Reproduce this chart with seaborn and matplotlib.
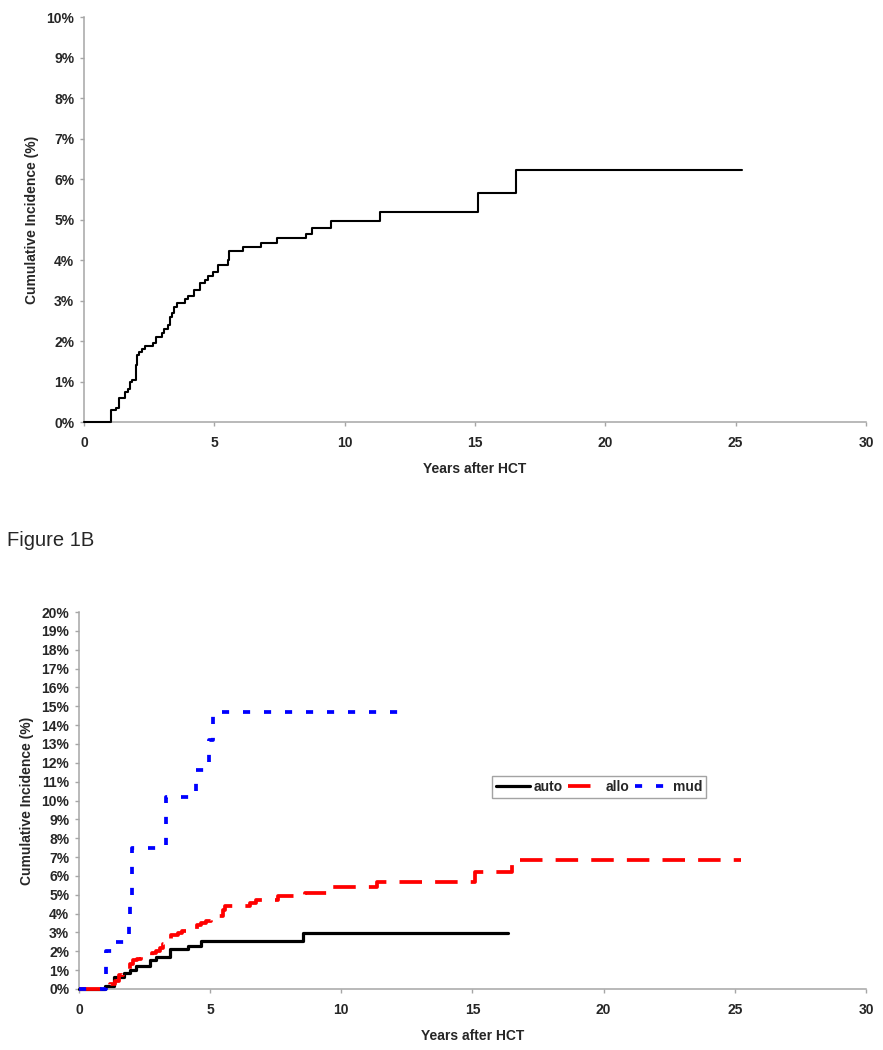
import pandas as pd
import seaborn as sns
import matplotlib.pyplot as plt
from matplotlib.ticker import FuncFormatter, MultipleLocator

# ----------------------------
# DATA (cumulative incidence in %)
# ----------------------------
# Figure 1A - all patients
top_years = [0, 1.03, 1.22, 1.35, 1.56, 1.67, 1.77, 1.86, 1.99, 2.05, 2.12, 2.24, 2.33,
             2.63, 2.76, 3.01, 3.08, 3.21, 3.29, 3.36, 3.46, 3.56, 3.88, 4.0, 4.21, 4.46,
             4.65, 4.77, 4.96, 5.13, 5.51, 5.58, 6.12, 6.79, 7.41, 8.53, 8.76, 9.46,
             11.35, 15.1, 16.57, 25.25]
top_pct = [0, 0.3, 0.35, 0.6, 0.75, 0.82, 1.0, 1.05, 1.4, 1.65, 1.72, 1.8, 1.88,
           1.95, 2.1, 2.2, 2.3, 2.4, 2.6, 2.7, 2.85, 2.95, 3.05, 3.12, 3.27, 3.43,
           3.5, 3.6, 3.7, 3.88, 4.0, 4.22, 4.33, 4.43, 4.54, 4.65, 4.8, 4.96,
           5.2, 5.65, 6.22, 6.22]

# Figure 1B - by transplant type
auto_years = [0, 0.98, 1.33, 1.72, 1.93, 2.18, 2.72, 2.95, 3.45, 4.15, 4.66, 8.55, 16.36]
auto_pct = [0, 0.15, 0.65, 0.83, 1.0, 1.2, 1.52, 1.72, 2.1, 2.3, 2.52, 2.97, 2.97]

allo_years = [0, 1.17, 1.36, 1.52, 1.68, 1.95, 2.06, 2.21, 2.35, 2.79, 2.94, 3.07, 3.2,
              3.52, 3.77, 3.93, 4.06, 4.49, 4.66, 4.85, 5.04, 5.1, 5.48, 5.57, 6.5,
              6.75, 7.58, 8.6, 9.5, 11.37, 15.1, 16.5, 25.25]
allo_pct = [0, 0.27, 0.45, 0.75, 0.9, 1.3, 1.54, 1.6, 1.73, 1.9, 2.0, 2.2, 2.4,
            2.85, 2.95, 3.1, 3.2, 3.4, 3.5, 3.6, 3.7, 3.85, 4.2, 4.4, 4.55,
            4.7, 4.92, 5.1, 5.39, 5.69, 6.22, 6.85, 6.85]

mud_years = [0, 1.02, 1.27, 1.9, 1.95, 2.03, 3.3, 4.47, 4.95, 5.12, 12.55]
mud_pct = [0, 2.0, 2.47, 3.8, 5.0, 7.5, 10.2, 11.6, 13.2, 14.7, 14.7]

x_ticks = [0, 5, 10, 15, 20, 25, 30]

# ----------------------------
# STYLE
# ----------------------------
sns.set_style("ticks")
plt.rcParams["font.family"] = ["Liberation Sans", "DejaVu Sans"]
plt.rcParams["font.weight"] = "bold"

GRAY = "#a6a6a6"

fig = plt.figure(figsize=(8.83, 10.5), dpi=100)
ax1 = fig.add_axes([0.0951, 0.598, 0.8856, 0.3857])
ax2 = fig.add_axes([0.0895, 0.0581, 0.8912, 0.3590])


def style_axis(ax, ymax):
    ax.set_xlim(0, 30)
    ax.set_ylim(0, ymax)
    ax.set_xticks(x_ticks)
    ax.yaxis.set_major_locator(MultipleLocator(1))
    ax.yaxis.set_major_formatter(FuncFormatter(lambda v, p: f"{v:.0f}%"))
    for side in ["top", "right"]:
        ax.spines[side].set_visible(False)
    for side in ["left", "bottom"]:
        ax.spines[side].set_color(GRAY)
        ax.spines[side].set_linewidth(1.1)
    ax.tick_params(axis="both", direction="out", length=3, width=1,
                   color=GRAY, labelsize=10)
    ax.tick_params(axis="x", pad=7)
    ax.tick_params(axis="y", pad=4)
    for lab in ax.get_xticklabels() + ax.get_yticklabels():
        lab.set_fontweight("bold")
    ax.set_xlabel("Years after HCT", fontsize=10, fontweight="bold", labelpad=9)
    ax.set_ylabel("Cumulative Incidence (%)", fontsize=10, fontweight="bold", labelpad=5)


# ----------------------------
# 1A. OVERALL CUMULATIVE INCIDENCE
# ----------------------------
sns.lineplot(x=top_years, y=top_pct, ax=ax1, color="black", linewidth=1.5,
             drawstyle="steps-post", estimator=None, sort=False,
             clip_on=False, zorder=3)
style_axis(ax1, 10)

# ----------------------------
# 1B. BY TRANSPLANT TYPE
# ----------------------------
sns.lineplot(x=auto_years, y=auto_pct, ax=ax2, color="black", linewidth=2.3,
             drawstyle="steps-post", estimator=None, sort=False, label="auto",
             clip_on=False, zorder=3)
sns.lineplot(x=allo_years, y=allo_pct, ax=ax2, color="#ff0000", linewidth=2.7,
             drawstyle="steps-post", estimator=None, sort=False, label="allo",
             dashes=(6.0, 3.5), clip_on=False, zorder=4)
sns.lineplot(x=mud_years, y=mud_pct, ax=ax2, color="#0000ff", linewidth=2.7,
             drawstyle="steps-post", estimator=None, sort=False, label="mud",
             dashes=(1.9, 3.7), clip_on=False, zorder=5)
style_axis(ax2, 20)

leg = ax2.legend(loc="center", bbox_to_anchor=(0.661, 0.536), ncol=3,
                 frameon=True, fancybox=False, handlelength=2.4,
                 handletextpad=0.3, columnspacing=0.4, borderpad=0.3,
                 prop={"weight": "bold", "size": 10})
leg.get_frame().set_edgecolor("#8c8c8c")
leg.get_frame().set_linewidth(1.0)

fig.text(0.008, 1 - 540 / 1050, "Figure 1B", fontsize=14.5, fontweight="normal",
         va="center", ha="left")

plt.savefig("out.png", dpi=100)
